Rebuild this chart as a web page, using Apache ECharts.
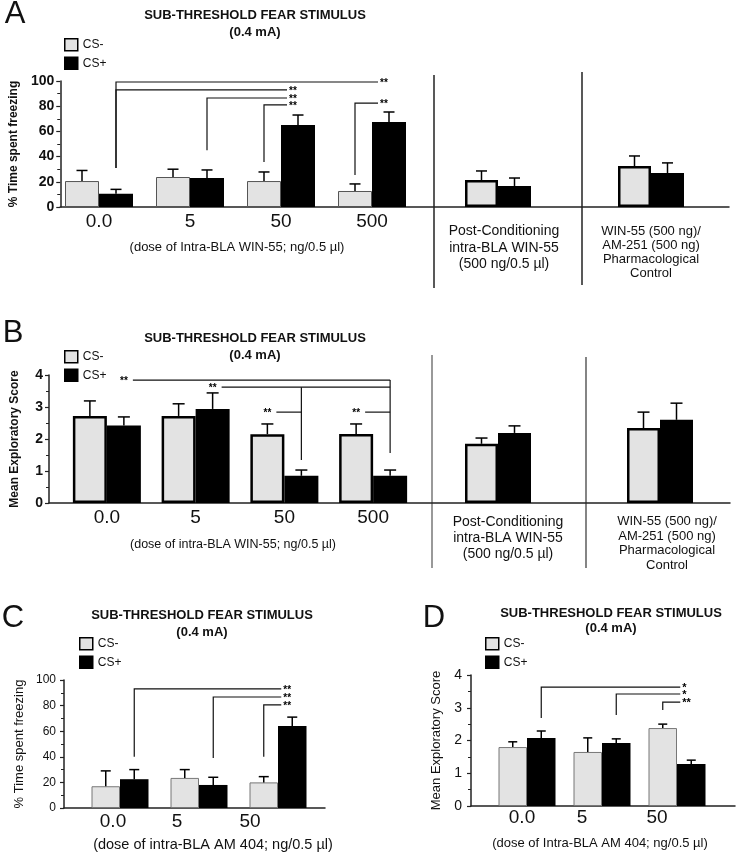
<!DOCTYPE html>
<html><head><meta charset="utf-8">
<script src="https://cdn.jsdelivr.net/npm/echarts@6/dist/echarts.min.js"></script>
<style>html,body{margin:0;padding:0;background:#fff}#c{width:736px;height:853px}</style>
</head><body><div id="c"></div>
<script>
// ================= DATA =================
const seriesNames = ['CS-', 'CS+'];
const dosesWIN = ['0.0', '5', '50', '500'];
const dosesAM = ['0.0', '5', '50'];
const postCat = ['Post-Conditioning\nintra-BLA WIN-55\n(500 ng/0.5 µl)'];
const pharmCat = ['WIN-55 (500 ng)/\nAM-251 (500 ng)\nPharmacological\nControl'];
const freezeAxis = { max: 100, interval: 20 };
const exploreAxis = { max: 4, interval: 1 };

// Panel A: % time freezing (mean, SEM)
const aMinus = [20.6, 23.8, 20.6, 12.7];
const aMinusSem = [8.4, 6.2, 7.2, 5.6];
const aPlus = [10.5, 23.0, 65.0, 67.5];
const aPlusSem = [3.5, 6.4, 8.0, 7.9];
const aPostMinus = [21.4], aPostMinusSem = [7.2];
const aPostPlus = [16.7], aPostPlusSem = [6.3];
const aPharmMinus = [32.5], aPharmMinusSem = [8.0];
const aPharmPlus = [27.0], aPharmPlusSem = [8.0];

// Panel B: mean exploratory score
const bMinus = [2.72, 2.72, 2.15, 2.16];
const bMinusSem = [0.47, 0.38, 0.32, 0.31];
const bPlus = [2.42, 2.94, 0.85, 0.85];
const bPlusSem = [0.27, 0.5, 0.18, 0.18];
const bPostMinus = [1.85], bPostMinusSem = [0.18];
const bPostPlus = [2.19], bPostPlusSem = [0.22];
const bPharmMinus = [2.34], bPharmMinusSem = [0.5];
const bPharmPlus = [2.6], bPharmPlusSem = [0.52];

// Panel C: % time freezing, AM 404
const cMinus = [17, 23.5, 20];
const cMinusSem = [12, 6.5, 4.5];
const cPlus = [22.5, 18, 64];
const cPlusSem = [7.5, 6, 7];

// Panel D: exploratory score, AM 404
const dMinus = [1.8, 1.65, 2.38];
const dMinusSem = [0.16, 0.43, 0.12];
const dPlus = [2.08, 1.92, 1.28];
const dPlusSem = [0.21, 0.13, 0.12];

// Significance brackets: [category, series(0=CS-,1=CS+)], value levels
const aBrackets = [
  { from: [0, 1], to: [3, 1], low: 31, high: 99.2, mark: '**' },
  { from: [0, 1], to: [2, 1], low: 31, high: 92.9, mark: '**' },
  { from: [1, 1], to: [2, 1], low: 45, high: 86.5, mark: '**' },
  { from: [2, 0], to: [2, 1], low: 35.7, high: 81, mark: '**' },
  { from: [3, 0], to: [3, 1], low: 25.4, high: 82.5, mark: '**' }
];
const bBrackets = [
  { from: [0, 1], to: [3, 1], y: 3.84, mark: '**', drops: [[3, 1, 1.56]] },
  { from: [1, 1], to: [3, 1], y: 3.62, mark: '**', drops: [[2, 1, 1.34]] },
  { from: [2, 0], to: [2, 1], y: 2.84, mark: '**', drops: [] },
  { from: [3, 0], to: [3, 1], y: 2.84, mark: '**', drops: [] }
];
const cBrackets = [
  { from: [0, 1], to: [2, 1], low: 40, high: 93, mark: '**' },
  { from: [1, 1], to: [2, 1], low: 39, high: 86.7, mark: '**' },
  { from: [2, 0], to: [2, 1], low: 40, high: 80.5, mark: '**' }
];
const dBrackets = [
  { from: [0, 1], to: [2, 1], low: 2.69, high: 3.63, mark: '*' },
  { from: [1, 1], to: [2, 1], low: 2.78, high: 3.42, mark: '*' },
  { from: [2, 0], to: [2, 1], low: 2.93, high: 3.17, mark: '**' }
];

// ================= STYLE / BUILD =================
const FONT = '"Liberation Sans", Arial, Helvetica, sans-serif';
const MINUS_FILL = '#e3e3e3';
const grids = [], xAxes = [], yAxes = [], series = [];

function frame(box, ax, name, nameGap, opt) {
  const i = grids.length;
  grids.push({ left: box[0], top: box[1], width: box[2], height: box[3] });
  xAxes.push({ gridIndex: i, type: 'value', min: 0, max: 1,
    axisLine: { show: true, onZero: false, lineStyle: { color: '#222', width: 1.5 } },
    axisTick: { show: false }, axisLabel: { show: false }, splitLine: { show: false } });
  yAxes.push({ gridIndex: i, type: 'value', min: 0, max: ax.max, interval: ax.interval,
    name: name, nameLocation: 'middle', nameRotate: 90, nameGap: nameGap,
    nameTextStyle: { fontFamily: FONT, fontSize: opt.nameSize, fontWeight: opt.nameBold ? 'bold' : 'normal', color: '#111' },
    axisLine: { show: true, lineStyle: { color: '#222', width: 1.5 } },
    axisTick: { show: true, length: 4, lineStyle: { color: '#222', width: 1.2 } },
    minorTick: { show: true, splitNumber: 2, length: 3, lineStyle: { color: '#222', width: 1 } },
    axisLabel: { margin: opt.margin, fontFamily: FONT, fontSize: opt.labelSize, fontWeight: opt.labelBold ? 'bold' : 'normal', color: '#111' },
    splitLine: { show: false }, minorSplitLine: { show: false } });
  return i;
}
function barGrid(box, cats, ax, label) {
  const i = grids.length;
  grids.push({ left: box[0], top: box[1], width: box[2], height: box[3] });
  xAxes.push({ gridIndex: i, type: 'category', data: cats,
    axisLine: { show: false }, axisTick: { show: false }, splitLine: { show: false },
    axisLabel: Object.assign({ interval: 0, fontFamily: FONT, color: '#111' }, label) });
  yAxes.push({ gridIndex: i, type: 'value', min: 0, max: ax.max, show: false });
  return i;
}
function errRender(bw, cap, side) {
  return function (params, api) {
    const k = api.value(0), m = api.value(1), s = api.value(2);
    const p0 = api.coord([k, m]), p1 = api.coord([k, m + s]);
    const x = p0[0] + side * bw / 2;
    const st = { stroke: '#000', lineWidth: 1.5 };
    return { type: 'group', children: [
      { type: 'line', shape: { x1: x, y1: p0[1], x2: x, y2: p1[1] }, style: st },
      { type: 'line', shape: { x1: x - cap / 2, y1: p1[1], x2: x + cap / 2, y2: p1[1] }, style: st }
    ] };
  };
}
function addBars(gi, minus, minusSem, plus, plusSem, st) {
  series.push({ type: 'bar', name: seriesNames[0], xAxisIndex: gi, yAxisIndex: gi, data: minus,
    barWidth: st.bw, barGap: '0%', z: 2,
    itemStyle: { color: MINUS_FILL, borderColor: st.bc, borderWidth: st.bwd } });
  series.push({ type: 'bar', name: seriesNames[1], xAxisIndex: gi, yAxisIndex: gi, data: plus,
    barWidth: st.bw, barGap: '0%', z: 2, itemStyle: { color: '#000' } });
  [[minus, minusSem, -1], [plus, plusSem, 1]].forEach(function (d) {
    series.push({ type: 'custom', xAxisIndex: gi, yAxisIndex: gi, z: 4, silent: true,
      data: d[0].map(function (v, k) { return [k, v, d[1][k]]; }),
      renderItem: errRender(st.bw, st.cap, d[2]) });
  });
}
function addBrackets(gi, list, bw, mode, font) {
  series.push({ type: 'custom', xAxisIndex: gi, yAxisIndex: gi, z: 5, silent: true,
    data: list.map(function (b, k) { return [0, 0]; }),
    renderItem: function (params, api) {
      const b = list[params.dataIndex];
      const px = function (cs, v) { const p = api.coord([cs[0], v]); return [p[0] + (cs[1] ? bw / 2 : -bw / 2), p[1]]; };
      const ls = { stroke: '#111', lineWidth: 1.2, fill: null };
      const ch = [];
      if (mode === 'end') {
        const p0 = px(b.from, b.low), p1 = px(b.from, b.high), t = px(b.to, b.high);
        const xe = t[0] - 11;
        ch.push({ type: 'polyline', shape: { points: [p0, p1, [xe, p1[1]]] }, style: ls });
        ch.push({ type: 'text', style: { text: b.mark, x: xe + 2, y: p1[1] + 1, font: font, fill: '#000',
          align: 'left', verticalAlign: 'middle', textAlign: 'left', textVerticalAlign: 'middle' } });
      } else {
        const lab = px(b.from, b.y), t = px(b.to, b.y);
        ch.push({ type: 'text', style: { text: b.mark, x: lab[0], y: lab[1] + 1, font: font, fill: '#000',
          align: 'center', verticalAlign: 'middle', textAlign: 'center', textVerticalAlign: 'middle' } });
        ch.push({ type: 'line', shape: { x1: lab[0] + 9, y1: lab[1], x2: t[0], y2: t[1] }, style: ls });
        b.drops.forEach(function (d) {
          const top = px(d, b.y), bot = px(d, d[2]);
          ch.push({ type: 'line', shape: { x1: top[0], y1: top[1], x2: bot[0], y2: bot[1] }, style: ls });
        });
      }
      return { type: 'group', children: ch };
    } });
}
function richShift(pads, size) {
  const rich = {};
  pads.forEach(function (p, k) { rich['s' + k] = { fontFamily: FONT, fontSize: size, color: '#111', padding: [0, p, 0, 0] }; });
  return { formatter: function (v, k) { return '{s' + k + '|' + v + '}'; }, rich: rich };
}

// ----- Panel A -----
const boxA = [81, 126];
frame([53, boxA[0], 676, boxA[1]], freezeAxis, '% Time spent freezing', 37,
  { nameSize: 12, nameBold: true, labelSize: 14, labelBold: true, margin: 6 });
const gA = barGrid([53.5, boxA[0], 364, boxA[1]], dosesWIN, freezeAxis, { fontSize: 19, margin: 5 });
const gAp = barGrid([434, boxA[0], 128, boxA[1]], postCat, freezeAxis, { fontSize: 14, lineHeight: 16.5, margin: 16, padding: [0, 0, 0, 12] });
const gAq = barGrid([582, boxA[0], 138, boxA[1]], pharmCat, freezeAxis, { fontSize: 13, lineHeight: 14, margin: 17 });
addBars(gA, aMinus, aMinusSem, aPlus, aPlusSem, { bw: 34, bc: '#555', bwd: 1, cap: 11 });
addBars(gAp, aPostMinus, aPostMinusSem, aPostPlus, aPostPlusSem, { bw: 33, bc: '#000', bwd: 2.5, cap: 11 });
addBars(gAq, aPharmMinus, aPharmMinusSem, aPharmPlus, aPharmPlusSem, { bw: 33, bc: '#000', bwd: 2.5, cap: 11 });
addBrackets(gA, aBrackets, 34, 'end', 'bold 10px ' + FONT);

// ----- Panel B -----
const boxB = [375, 128];
frame([49, boxB[0], 681, boxB[1]], exploreAxis, 'Mean Exploratory Score', 28,
  { nameSize: 12, nameBold: true, labelSize: 14, labelBold: true, margin: 6 });
const gB = barGrid([62.5, boxB[0], 355, boxB[1]], dosesWIN, exploreAxis, { fontSize: 19, margin: 5 });
const gBp = barGrid([432, boxB[0], 132, boxB[1]], postCat, exploreAxis, { fontSize: 14, lineHeight: 16, margin: 11, padding: [0, 0, 0, 20] });
const gBq = barGrid([586, boxB[0], 148, boxB[1]], pharmCat, exploreAxis, { fontSize: 13, lineHeight: 14.7, margin: 11, padding: [0, 0, 0, 14] });
addBars(gB, bMinus, bMinusSem, bPlus, bPlusSem, { bw: 34, bc: '#000', bwd: 2.5, cap: 12 });
addBars(gBp, bPostMinus, bPostMinusSem, bPostPlus, bPostPlusSem, { bw: 33, bc: '#000', bwd: 2.5, cap: 12 });
addBars(gBq, bPharmMinus, bPharmMinusSem, bPharmPlus, bPharmPlusSem, { bw: 33, bc: '#000', bwd: 2.5, cap: 12 });
addBrackets(gB, bBrackets, 34, 'start', 'bold 10px ' + FONT);

// ----- Panel C -----
const boxC = [680, 128];
frame([64, boxC[0], 261, boxC[1]], freezeAxis, '% Time spent freezing', 38,
  { nameSize: 13, nameBold: false, labelSize: 12, labelBold: false, margin: 8 });
const gC = barGrid([80.5, boxC[0], 237, boxC[1]], dosesAM, freezeAxis,
  Object.assign({ fontSize: 19, margin: 4 }, richShift([14, 44, 56], 19)));
addBars(gC, cMinus, cMinusSem, cPlus, cPlusSem, { bw: 28.5, bc: '#777', bwd: 1, cap: 10 });
addBrackets(gC, cBrackets, 28.5, 'end', 'bold 10px ' + FONT);

// ----- Panel D -----
const boxD = [675, 131];
frame([471, boxD[0], 264, boxD[1]], exploreAxis, 'Mean Exploratory Score', 28,
  { nameSize: 13, nameBold: false, labelSize: 14, labelBold: false, margin: 9 });
const gD = barGrid([489.5, boxD[0], 225, boxD[1]], dosesAM, exploreAxis,
  Object.assign({ fontSize: 19, margin: 2 }, richShift([10, 40, 40], 19)));
addBars(gD, dMinus, dMinusSem, dPlus, dPlusSem, { bw: 28.5, bc: '#777', bwd: 1, cap: 9 });
addBrackets(gD, dBrackets, 28.5, 'end', 'bold 11px ' + FONT);

// ----- Text & decorations -----
function txt(x, y, text, font, lh) {
  return { type: 'text', x: x, y: y, silent: true, style: { text: text, font: font, fill: '#111', lineHeight: lh || undefined,
    align: 'center', verticalAlign: 'middle', textAlign: 'center', textVerticalAlign: 'middle' } };
}
function vline(x, y1, y2, c, w) {
  return { type: 'line', silent: true, shape: { x1: x, y1: y1, x2: x, y2: y2 }, style: { stroke: c, lineWidth: w } };
}
const TITLE = 'SUB-THRESHOLD FEAR STIMULUS\n(0.4 mA)';
const graphic = [
  txt(15, 14, 'A', '31px ' + FONT),
  txt(13, 333, 'B', '31px ' + FONT),
  txt(13, 618, 'C', '31px ' + FONT),
  txt(434, 618, 'D', '31px ' + FONT),
  txt(255, 23.5, TITLE, 'bold 13px ' + FONT, 17),
  txt(255, 346.5, TITLE, 'bold 13px ' + FONT, 17),
  txt(202, 623.5, TITLE, 'bold 13px ' + FONT, 17),
  txt(611, 620.5, TITLE, 'bold 13px ' + FONT, 15),
  txt(237, 247, '(dose of Intra-BLA WIN-55; ng/0.5 µl)', '13px ' + FONT),
  txt(233, 545, '(dose of intra-BLA WIN-55; ng/0.5 µl)', '12.5px ' + FONT),
  txt(213, 845, '(dose of intra-BLA AM 404; ng/0.5 µl)', '14.5px ' + FONT),
  txt(600, 843, '(dose of Intra-BLA AM 404; ng/0.5 µl)', '13px ' + FONT),
  vline(434, 75, 288, '#222', 1.5),
  vline(582, 72, 285, '#222', 1.5),
  vline(432, 355, 568, '#555', 1.2),
  vline(586, 357, 568, '#333', 1.2)
];

const legendBase = { orient: 'vertical', data: seriesNames, itemWidth: 13, itemHeight: 12, itemGap: 5, icon: 'rect',
  selectedMode: false, padding: 0, textStyle: { fontFamily: FONT, fontSize: 12, color: '#111' },
  itemStyle: { borderColor: '#000', borderWidth: 1.5 } };
const legends = [[64, 38], [64, 350], [79, 637], [485, 637]].map(function (p) {
  return Object.assign({}, legendBase, { left: p[0], top: p[1] });
});

const chart = echarts.init(document.getElementById('c'));
chart.setOption({
  animation: false,
  backgroundColor: '#fff',
  grid: grids, xAxis: xAxes, yAxis: yAxes,
  legend: legends,
  series: series,
  graphic: graphic
});
</script></body></html>
